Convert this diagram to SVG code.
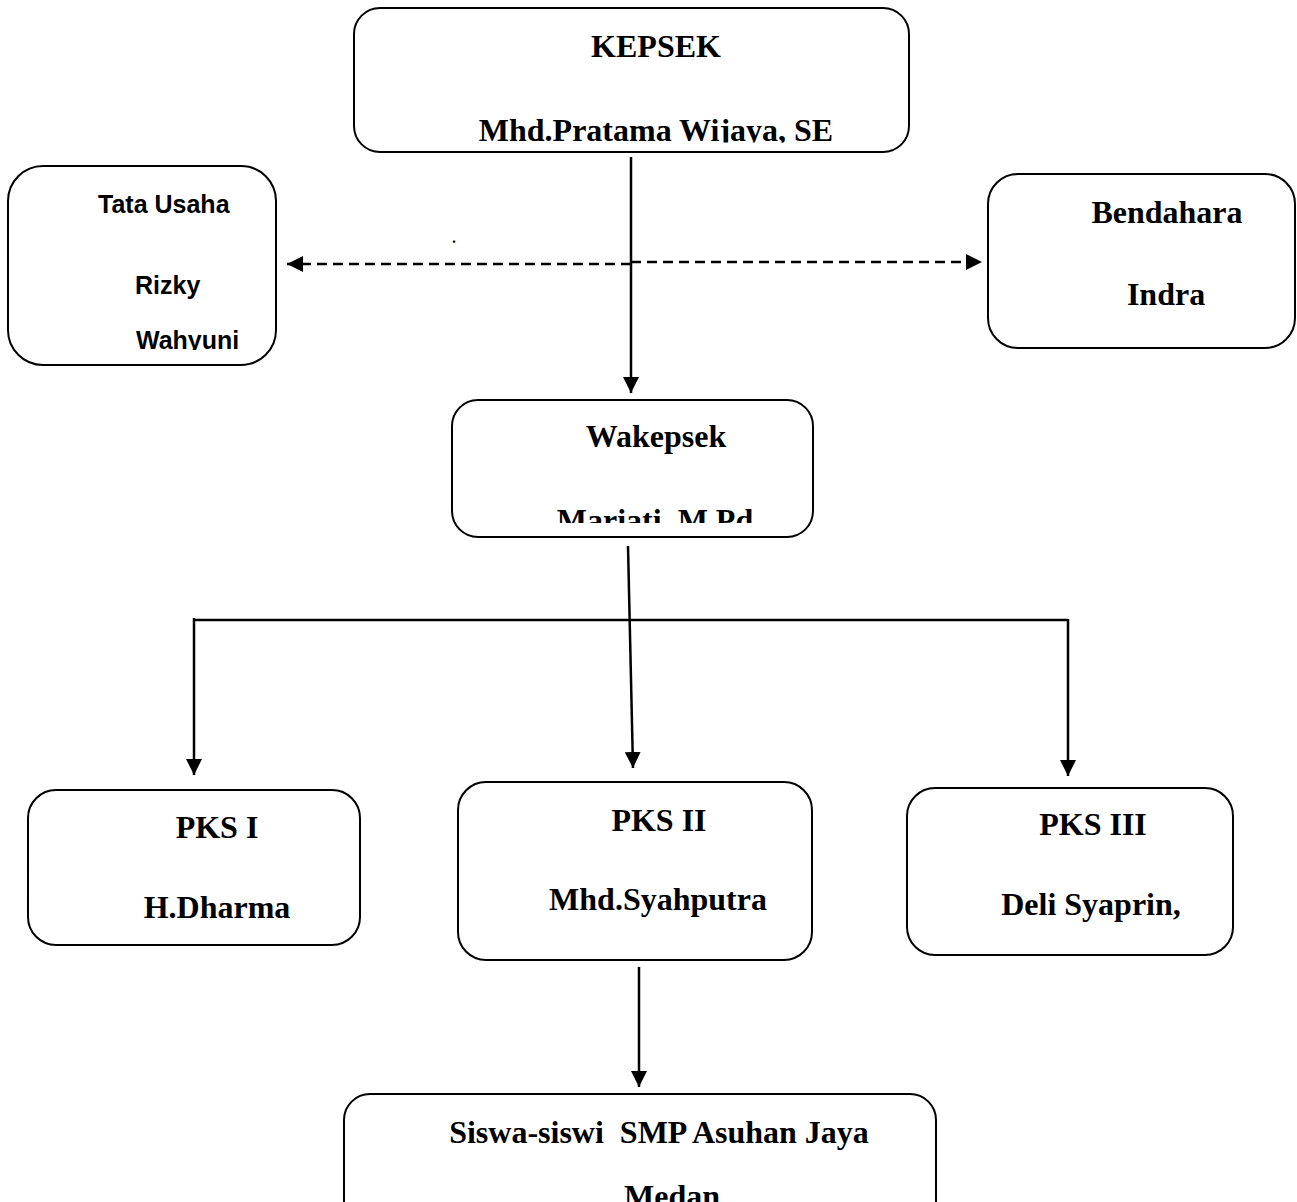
<svg xmlns="http://www.w3.org/2000/svg" width="1297" height="1202" viewBox="0 0 1297 1202">
<style>
.box{fill:#fff;stroke:#000;stroke-width:2}
.t{font-family:"Liberation Serif","Times New Roman",serif;font-weight:bold;font-size:32px;fill:#000;text-anchor:middle}
.s{font-family:"Liberation Sans",Arial,sans-serif;font-weight:bold;font-size:25px;fill:#000}
.c{stroke:#000;stroke-width:2.5;fill:none}
.d{stroke:#000;stroke-width:2.5;fill:none;stroke-dasharray:10 6}
</style>
<defs>
<marker id="ah" markerWidth="16" markerHeight="16" refX="16" refY="8" orient="auto" markerUnits="userSpaceOnUse"><path d="M0,0 L16,8 L0,16 z" fill="#000"/></marker>
<clipPath id="clipK"><rect x="354" y="0" width="560" height="142.5"/></clipPath>
<clipPath id="clipTU"><rect x="8" y="166" width="268" height="184"/></clipPath>
<clipPath id="clipW"><rect x="452" y="400" width="361" height="123"/></clipPath>
</defs>
<g id="connectors">
<line class="c" x1="631" y1="157" x2="631" y2="393" marker-end="url(#ah)"/>
<line class="d" x1="631" y1="264" x2="287" y2="264" marker-end="url(#ah)"/>
<line class="d" x1="631" y1="262" x2="982" y2="262" marker-end="url(#ah)"/>
<line class="c" x1="628" y1="546" x2="633" y2="768" marker-end="url(#ah)"/>
<line class="c" x1="193" y1="620" x2="1068" y2="620"/>
<line class="c" x1="194" y1="618" x2="194" y2="775" marker-end="url(#ah)"/>
<line class="c" x1="1068" y1="619" x2="1068" y2="776" marker-end="url(#ah)"/>
<line class="c" x1="639" y1="967" x2="639" y2="1087" marker-end="url(#ah)"/>
</g>
<text class="t" x="454" y="243" style="font-size:16px">.</text>
<g id="kepsek">
<rect class="box" x="354" y="8" width="555" height="144" rx="26"/>
<text class="t" x="656" y="57">KEPSEK</text>
<text class="t" x="656" y="141" clip-path="url(#clipK)">Mhd.Pratama Wijaya, SE</text>
</g>
<g id="tata-usaha">
<rect class="box" x="8" y="166" width="268" height="199" rx="35"/>
<text class="s" x="98" y="213">Tata Usaha</text>
<text class="s" x="135" y="294">Rizky</text>
<text class="s" x="136" y="349" clip-path="url(#clipTU)">Wahyuni</text>
</g>
<g id="bendahara">
<rect class="box" x="988" y="174" width="307" height="174" rx="30"/>
<text class="t" x="1167" y="223">Bendahara</text>
<text class="t" x="1166" y="305">Indra</text>
</g>
<g id="wakepsek">
<rect class="box" x="452" y="400" width="361" height="137" rx="26"/>
<text class="t" x="656" y="447">Wakepsek</text>
<text class="t" x="655" y="531" clip-path="url(#clipW)">Mariati, M.Pd</text>
</g>
<g id="pks1">
<rect class="box" x="28" y="790" width="332" height="155" rx="28"/>
<text class="t" x="217" y="838">PKS I</text>
<text class="t" x="217" y="918">H.Dharma</text>
</g>
<g id="pks2">
<rect class="box" x="458" y="782" width="354" height="178" rx="28"/>
<text class="t" x="659" y="831">PKS II</text>
<text class="t" x="658" y="910">Mhd.Syahputra</text>
</g>
<g id="pks3">
<rect class="box" x="907" y="788" width="326" height="167" rx="28"/>
<text class="t" x="1093" y="835">PKS III</text>
<text class="t" x="1091" y="915">Deli Syaprin,</text>
</g>
<g id="siswa">
<rect class="box" x="344" y="1094" width="592" height="160" rx="26"/>
<text class="t" x="659" y="1143" xml:space="preserve">Siswa-siswi  SMP Asuhan Jaya</text>
<text class="t" x="672" y="1207">Medan</text>
</g>
</svg>
